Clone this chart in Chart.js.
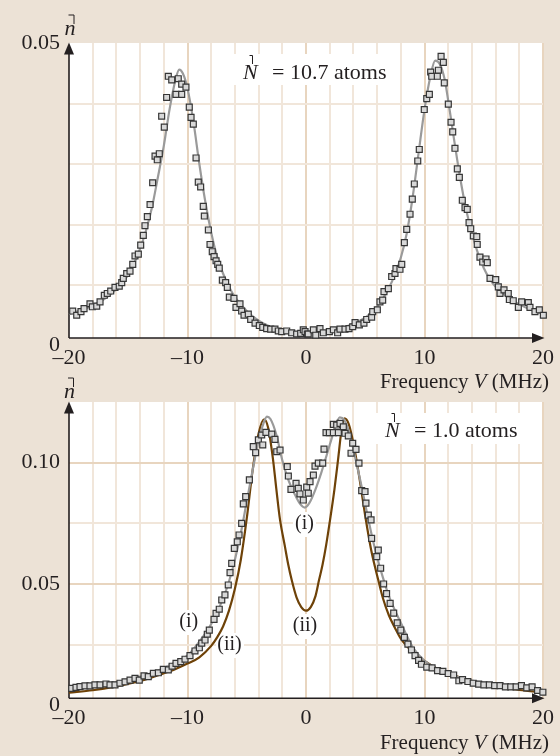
<!DOCTYPE html>
<html><head><meta charset="utf-8">
<script src="https://cdn.jsdelivr.net/npm/chart.js@4.4.1/dist/chart.umd.min.js"></script>
<style>
html,body{margin:0;padding:0;background:#ece2d6;width:560px;height:756px;overflow:hidden}
canvas{position:absolute;left:0;top:0}
</style></head><body>
<canvas id="c1" width="560" height="756"></canvas>
<canvas id="c2" width="560" height="756"></canvas>
<script>
// ---------- DATA ----------
const TOP_X = [-19.69,-19.35,-18.99,-18.73,-18.23,-18.03,-17.66,-17.38,-17.02,-16.77,-16.48,-16.12,-15.76,-15.55,-15.42,-15.13,-14.85,-14.62,-14.43,-14.15,-13.95,-13.73,-13.59,-13.39,-13.16,-12.94,-12.74,-12.55,-12.38,-12.18,-11.96,-11.76,-11.62,-11.33,-10.97,-10.78,-10.49,-10.49,-10.13,-9.85,-9.70,-9.51,-9.28,-9.09,-8.89,-8.67,-8.58,-8.24,-8.10,-7.91,-7.76,-7.59,-7.45,-7.32,-7.06,-6.78,-6.64,-6.47,-6.08,-5.91,-5.57,-5.43,-5.23,-4.87,-4.67,-4.30,-3.94,-3.65,-3.32,-2.98,-2.62,-2.34,-2.05,-1.63,-1.21,-0.79,-0.45,-0.23,-0.08,0.11,0.19,0.62,0.82,1.18,1.46,1.97,2.31,2.67,2.87,3.29,3.63,3.94,4.14,4.50,4.89,5.12,5.54,5.63,6.02,6.24,6.47,6.58,6.95,7.23,7.51,7.59,7.93,8.08,8.30,8.50,8.78,8.97,9.14,9.43,9.56,9.98,10.19,10.41,10.52,10.61,11.08,11.17,11.40,11.59,11.67,12.01,12.24,12.38,12.57,12.77,12.94,13.19,13.42,13.61,13.76,13.90,14.12,14.41,14.45,14.68,14.91,15.19,15.30,15.53,16.01,16.23,16.37,16.71,17.07,17.16,17.49,17.92,18.20,18.76,18.90,19.32,19.69,20.03];
const TOP_Y = [0.0057,0.0050,0.0056,0.0061,0.0069,0.0064,0.0065,0.0072,0.0083,0.0086,0.0090,0.0096,0.0098,0.0104,0.0111,0.0119,0.0123,0.0134,0.0148,0.0151,0.0166,0.0182,0.0198,0.0213,0.0233,0.0269,0.0313,0.0307,0.0317,0.0379,0.0361,0.0410,0.0445,0.0439,0.0415,0.0441,0.0432,0.0415,0.0427,0.0394,0.0377,0.0366,0.0310,0.0270,0.0262,0.0230,0.0214,0.0191,0.0167,0.0155,0.0147,0.0140,0.0134,0.0128,0.0108,0.0104,0.0096,0.0080,0.0078,0.0063,0.0069,0.0057,0.0050,0.0052,0.0043,0.0037,0.0033,0.0030,0.0028,0.0027,0.0027,0.0024,0.0023,0.0024,0.0021,0.0019,0.0020,0.0026,0.0023,0.0019,0.0019,0.0026,0.0017,0.0028,0.0021,0.0023,0.0026,0.0021,0.0027,0.0027,0.0028,0.0031,0.0038,0.0034,0.0037,0.0043,0.0047,0.0056,0.0059,0.0072,0.0075,0.0089,0.0094,0.0114,0.0119,0.0127,0.0126,0.0134,0.0170,0.0192,0.0217,0.0242,0.0267,0.0305,0.0324,0.0390,0.0408,0.0415,0.0452,0.0445,0.0445,0.0455,0.0478,0.0468,0.0434,0.0399,0.0369,0.0353,0.0326,0.0292,0.0278,0.0240,0.0228,0.0225,0.0203,0.0193,0.0181,0.0180,0.0167,0.0146,0.0138,0.0143,0.0137,0.0111,0.0109,0.0097,0.0086,0.0092,0.0086,0.0076,0.0074,0.0063,0.0072,0.0071,0.0063,0.0056,0.0059,0.0050];

const TOP_FIT_X = [-20,-19,-18,-17,-16,-15.5,-15,-14.5,-14,-13.5,-13,-12.5,-12,-11.5,-11,-10.7,-10.4,-10,-9.5,-9,-8.5,-8,-7.5,-7,-6.5,-6,-5,-4,-3,-2,-1,0,1,2,3,4,5,5.5,6,6.5,7,7.5,8,8.5,9,9.5,10,10.5,10.9,11.3,11.7,12,12.5,13,13.5,14,14.5,15,15.5,16,17,18,19,20];
const TOP_FIT_Y = [0.0052,0.0058,0.0066,0.0077,0.0093,0.0104,0.0117,0.0136,0.0160,0.0190,0.0228,0.0278,0.0330,0.0392,0.0440,0.0456,0.0450,0.0425,0.0370,0.0300,0.0238,0.0187,0.0147,0.0119,0.0097,0.0080,0.0057,0.0041,0.0031,0.0025,0.0022,0.0021,0.0022,0.0025,0.0029,0.0036,0.0046,0.0054,0.0064,0.0078,0.0095,0.0117,0.0145,0.0185,0.0245,0.0318,0.0390,0.0445,0.0471,0.0465,0.0440,0.0405,0.0340,0.0278,0.0226,0.0186,0.0153,0.0128,0.0110,0.0097,0.0080,0.0068,0.0059,0.0052];

const BOT_X = [-19.77,-19.41,-19.07,-18.65,-18.23,-17.81,-17.38,-16.88,-16.54,-16.12,-15.70,-15.27,-14.85,-14.43,-14.07,-13.67,-13.31,-12.88,-12.46,-12.04,-11.62,-11.30,-10.97,-10.57,-10.21,-9.79,-9.37,-9.00,-8.80,-8.52,-8.33,-8.16,-7.76,-7.59,-7.32,-7.11,-6.84,-6.56,-6.41,-6.27,-6.05,-5.80,-5.65,-5.43,-5.29,-5.09,-4.78,-4.45,-4.25,-4.02,-3.74,-3.65,-3.38,-2.89,-2.62,-2.47,-2.19,-1.58,-1.49,-1.27,-0.84,-0.65,-0.51,-0.23,0.06,0.19,0.34,0.62,0.76,1.04,1.41,1.52,1.69,1.97,2.31,2.31,2.59,2.73,2.87,3.15,3.29,3.57,3.80,3.94,4.22,4.47,4.70,4.98,5.06,5.26,5.49,5.54,5.97,6.10,6.30,6.55,6.80,7.10,7.40,7.70,8.00,8.30,8.60,8.90,9.20,9.50,9.74,10.19,10.64,11.10,11.55,12.00,12.46,12.90,13.21,13.66,14.11,14.57,15.01,15.47,15.92,16.37,16.83,17.28,17.73,18.18,18.63,19.08,19.54,19.99];
const BOT_Y = [0.0070,0.0074,0.0077,0.0080,0.0080,0.0084,0.0084,0.0088,0.0084,0.0084,0.0091,0.0097,0.0104,0.0111,0.0104,0.0121,0.0118,0.0132,0.0134,0.0148,0.0146,0.0161,0.0173,0.0180,0.0190,0.0205,0.0224,0.0237,0.0256,0.0269,0.0293,0.0310,0.0354,0.0379,0.0396,0.0434,0.0455,0.0496,0.0547,0.0585,0.0647,0.0674,0.0702,0.0750,0.0830,0.0860,0.0929,0.1066,0.1041,0.1094,0.1114,0.1073,0.1125,0.1118,0.1096,0.1045,0.1052,0.0984,0.0945,0.0890,0.0915,0.0894,0.0871,0.0846,0.0899,0.0874,0.0922,0.0949,0.0986,0.0998,0.0998,0.1056,0.1124,0.1124,0.1124,0.1158,0.1155,0.1124,0.1162,0.1148,0.1121,0.1110,0.1039,0.1080,0.1055,0.0998,0.0885,0.0881,0.0833,0.0784,0.0764,0.0688,0.0613,0.0640,0.0565,0.0500,0.0460,0.0420,0.0380,0.0340,0.0310,0.0280,0.0252,0.0228,0.0205,0.0185,0.0169,0.0157,0.0154,0.0143,0.0140,0.0131,0.0125,0.0101,0.0106,0.0098,0.0091,0.0087,0.0084,0.0084,0.0081,0.0081,0.0076,0.0076,0.0076,0.0081,0.0072,0.0076,0.0061,0.0054];

const FIT_I_X = [-20,-18,-16,-14,-12,-11,-10,-9,-8,-7,-6.5,-6,-5.5,-5,-4.5,-4,-3.6,-3.3,-3,-2.5,-2,-1.5,-1,-0.5,-0.1,0.3,0.8,1.3,1.8,2.3,2.85,3.2,3.7,4.2,4.7,5.2,5.6,6,6.5,7,8,9,10,11,12,14,16,18,20];
const FIT_I_Y = [0.0065,0.0078,0.0095,0.0118,0.0153,0.0178,0.0205,0.0262,0.0335,0.0440,0.0510,0.0600,0.0710,0.0840,0.0970,0.1090,0.1160,0.1190,0.1180,0.1115,0.1010,0.0930,0.0875,0.0830,0.0815,0.0835,0.0890,0.0960,0.1040,0.1120,0.1187,0.1178,0.1115,0.1010,0.0900,0.0780,0.0690,0.0610,0.0525,0.0450,0.0340,0.0240,0.0183,0.0152,0.0130,0.0102,0.0085,0.0074,0.0064];

const FIT_II_X = [-20,-18,-16,-14,-12,-11,-10,-9,-8,-7.5,-7,-6.5,-6,-5.5,-5,-4.5,-4,-3.54,-3.2,-2.8,-2.5,-2.19,-1.8,-1.5,-1.2,-0.8,-0.4,0,0.4,0.8,1.1,1.4,1.7,2.03,2.4,2.7,3.0,3.25,3.6,4.0,4.5,5.0,5.5,6.1,6.5,7,7.5,8,9,10,11,12,14,16,18,20];
const FIT_II_Y = [0.0052,0.0062,0.0078,0.0100,0.0132,0.0150,0.0172,0.0198,0.0245,0.0280,0.0325,0.0390,0.0480,0.0600,0.0770,0.0970,0.1120,0.1179,0.1145,0.1020,0.0890,0.0764,0.0660,0.0580,0.0515,0.0445,0.0405,0.0390,0.0405,0.0450,0.0516,0.0580,0.0660,0.0764,0.0890,0.1010,0.1135,0.1183,0.1160,0.1080,0.0940,0.0780,0.0640,0.0516,0.0440,0.0370,0.0320,0.0275,0.0220,0.0183,0.0153,0.0132,0.0100,0.0079,0.0063,0.0053];

const X_TICK_LABELS = {'-20':'\u201320','-10':'\u201310','0':'0','10':'10','20':'20'};
const TOP_Y_LABELS = {'0':'0','0.05':'0.05'};
const BOT_Y_LABELS = {'0':'0','0.05':'0.05','0.1':'0.10'};
const TOP_NOTE = '= 10.7 atoms';
const BOT_NOTE = '= 1.0 atoms';
const CURVE_LABELS = [['(i)',188.8,622],['(ii)',229.5,645],['(i)',304.5,524],['(ii)',305,626]];

// ---------- STYLE ----------
const BG = '#ece2d6';
const INK = '#231f20';
const MINOR = '#f1e6da';
const MAJOR = '#e8d5bf';
const CLEAR = 'rgba(0,0,0,0)';
const FONT = '"Liberation Serif", "Times New Roman", serif';

function pts(xs, ys){ return xs.map((x,i)=>({x:x,y:ys[i]})); }
function labelFor(map, v){ for (const k in map){ if (Math.abs(parseFloat(k)-v) < 1e-9) return map[k]; } return ''; }

function pointSet(xs, ys){
  return { data: pts(xs, ys), showLine:false, pointStyle:'rect', pointRadius:4.2,
    pointBackgroundColor:'#d8d8d8', pointBorderColor:'#363636', pointBorderWidth:1.2, order:0, clip:8 };
}
function curveSet(xs, ys, color, ord){
  return { data: pts(xs, ys), showLine:true, pointRadius:0, borderColor:color, borderWidth:2.2,
    cubicInterpolationMode:'monotone', fill:false, order:ord, clip:4 };
}

function hook(ctx, x, y0, y1, stub){
  ctx.beginPath(); ctx.moveTo(x - stub, y0); ctx.lineTo(x, y0); ctx.lineTo(x, y1); ctx.stroke();
}

function drawTitle(ctx, right, cy){
  const parts = [['Frequency ', '21px '+FONT], ['V', 'italic 21px '+FONT], [' (MHz)', '21px '+FONT]];
  let w = 0;
  parts.forEach(p => { ctx.font = p[1]; w += ctx.measureText(p[0]).width; });
  let x = right - w;
  ctx.textAlign = 'left'; ctx.textBaseline = 'middle'; ctx.fillStyle = INK;
  parts.forEach(p => { ctx.font = p[1]; ctx.fillText(p[0], x, cy); x += ctx.measureText(p[0]).width; });
}

function makeDeco(id, p){
  return {
    id: id,
    beforeDraw(chart){
      const ctx = chart.ctx, a = chart.chartArea, ay = a.bottom - p.axisOffset;
      ctx.save(); ctx.fillStyle = '#ffffff';
      ctx.fillRect(a.left, a.top, a.right - a.left, ay - a.top);
      ctx.restore();
    },
    beforeDatasetsDraw(chart){
      const ctx = chart.ctx, a = chart.chartArea, ay = a.bottom - p.axisOffset;
      ctx.save();
      ctx.fillStyle = BG;
      ctx.fillRect(a.left - 3, ay, a.right - a.left + 8, a.bottom - ay + 2);
      ctx.fillStyle = '#ffffff';
      p.boxes.forEach(b => ctx.fillRect(b[0], b[1], b[2], b[3]));
      // axes
      ctx.strokeStyle = INK; ctx.fillStyle = INK; ctx.lineWidth = 1.6;
      ctx.beginPath();
      ctx.moveTo(a.left, ay); ctx.lineTo(a.right - 6, ay);
      ctx.moveTo(a.left, ay); ctx.lineTo(a.left, a.top + 6);
      ctx.stroke();
      ctx.beginPath(); ctx.moveTo(a.left, a.top - 0.5); ctx.lineTo(a.left - 5, a.top + 11.5); ctx.lineTo(a.left + 5, a.top + 11.5); ctx.closePath(); ctx.fill();
      ctx.beginPath(); ctx.moveTo(a.right + 1.5, ay); ctx.lineTo(a.right - 11, ay - 5); ctx.lineTo(a.right - 11, ay + 5); ctx.closePath(); ctx.fill();
      // y-axis symbol
      ctx.font = 'italic 22px ' + FONT; ctx.textAlign = 'center'; ctx.textBaseline = 'middle';
      ctx.fillText('n', p.nSym[0], p.nSym[1]);
      ctx.lineWidth = 1;
      hook(ctx, p.nSym[0] + 4, p.nSym[1] - 14, p.nSym[1] - 5, 5.5);
      // note
      ctx.textAlign = 'left';
      ctx.font = 'italic 22px ' + FONT;
      ctx.fillText('N', p.note[0], p.note[1]);
      hook(ctx, p.note[0] + 9.5, p.note[1] - 17.5, p.note[1] - 9, 3);
      ctx.font = '22px ' + FONT;
      ctx.fillText(p.noteText, p.note[0] + 29, p.note[1]);
      // curve labels
      ctx.font = '20px ' + FONT; ctx.textAlign = 'center';
      p.labels.forEach(l => ctx.fillText(l[0], l[1], l[2]));
      drawTitle(ctx, 549, p.titleY);
      ctx.restore();
    }
  };
}

function makeChart(id, cfg){
  return new Chart(document.getElementById(id), {
    type: 'scatter',
    data: { datasets: cfg.datasets },
    options: {
      responsive:false, animation:false, events:[], devicePixelRatio:1,
      layout: { padding: cfg.padding },
      plugins: { legend:{display:false}, tooltip:{enabled:false} },
      scales: {
        x: { type:'linear', min:-20, max:20,
          ticks: { stepSize:2, autoSkip:false, maxRotation:0, padding:0, color:INK,
                   font:{family:FONT, size:22}, callback: v => labelFor(X_TICK_LABELS, v) },
          grid: { drawTicks:false, lineWidth:2,
                  color: c => { const v = c.tick ? c.tick.value : NaN;
                    if (Math.abs(v + 20) < 1e-9) return CLEAR;
                    return Math.abs(v % 10) < 1e-9 ? MAJOR : MINOR; } },
          border: { display:false },
          afterFit: s => { s.height = cfg.xh; } },
        y: { type:'linear', min:0, max:cfg.ymax,
          ticks: { stepSize:cfg.ystep, autoSkip:false, padding:9, color:INK,
                   font:{family:FONT, size:22}, callback: v => labelFor(cfg.ylabels, v) },
          grid: { drawTicks:false, lineWidth:2,
                  color: c => { const v = c.tick ? c.tick.value : NaN;
                    if (v < 1e-9 || v > cfg.ymax - 1e-9) return CLEAR;
                    return labelFor(cfg.ylabels, v) ? MAJOR : MINOR; } },
          border: { display:false },
          afterFit: s => { s.width = 69; } }
      }
    },
    plugins: [cfg.deco]
  });
}

makeChart('c1', {
  datasets: [ pointSet(TOP_X, TOP_Y), curveSet(TOP_FIT_X, TOP_FIT_Y, '#9a9a9a', 1) ],
  padding: { top:43, right:17, bottom:358.5, left:0 }, xh:52,
  ymax:0.05, ystep:0.01, ylabels:TOP_Y_LABELS,
  deco: makeDeco('decoTop', { axisOffset:7.5, boxes:[[226,54,166,31]], nSym:[70,29],
    note:[243,73], noteText:TOP_NOTE, labels:[], titleY:382 })
});

makeChart('c2', {
  datasets: [ pointSet(BOT_X, BOT_Y), curveSet(FIT_I_X, FIT_I_Y, '#9a9a9a', 1), curveSet(FIT_II_X, FIT_II_Y, '#6e4208', 2) ],
  padding: { top:402, right:17, bottom:0.7, left:0 }, xh:50,
  ymax:0.125, ystep:0.025, ylabels:BOT_Y_LABELS,
  deco: makeDeco('decoBot', { axisOffset:7, boxes:[[366,413,165,31],[178,610,22,25],[216,633,28,25],[293,512,23,25],[291,614,28,25]],
    nSym:[69.5,392], note:[385,431], noteText:BOT_NOTE, labels:CURVE_LABELS, titleY:743 })
});
</script>
</body></html>
